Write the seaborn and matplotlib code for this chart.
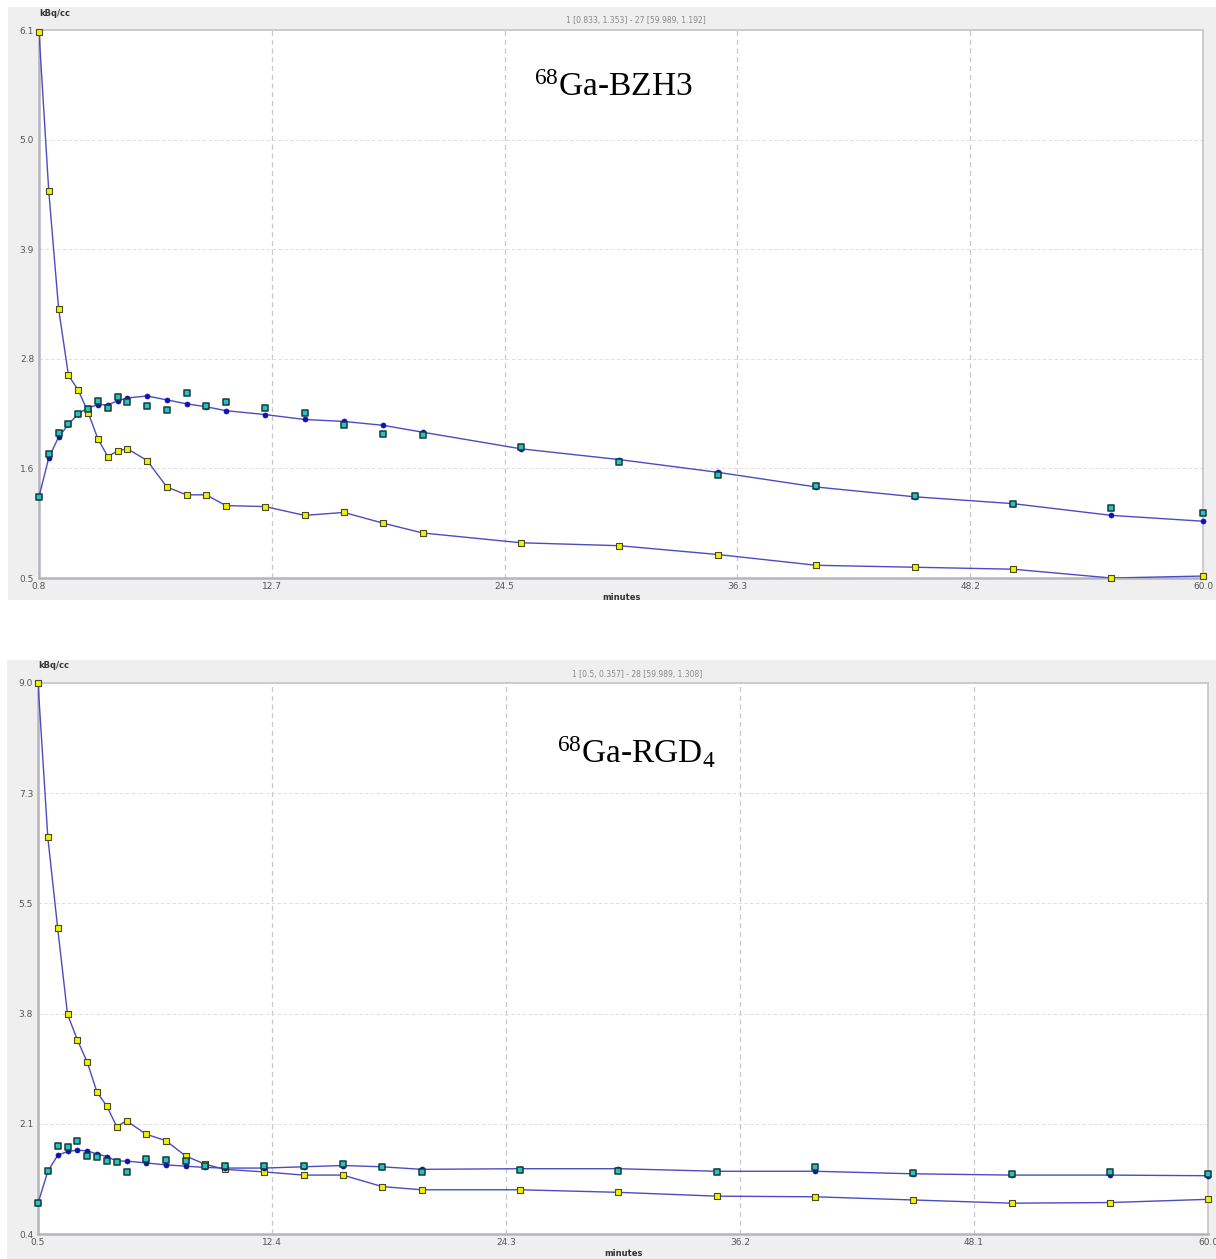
import numpy as np
import pandas as pd
import matplotlib
matplotlib.use("Agg")
import matplotlib.pyplot as plt
from matplotlib.patches import Rectangle
import seaborn as sns

# frame mid-times (minutes)
t_bzh3 = [0.833, 1.33, 1.83, 2.33, 2.83, 3.33, 3.83, 4.33, 4.83, 5.33, 6.33, 7.33, 8.33, 9.33,
          10.33, 12.33, 14.33, 16.33, 18.33, 20.33, 25.33, 30.33, 35.33, 40.33, 45.33, 50.33,
          55.33, 59.989]
t_rgd = [0.5, 1.0, 1.5, 2.0, 2.5, 3.0, 3.5, 4.0, 4.5, 5.0, 6.0, 7.0, 8.0, 9.0, 10.0, 12.0,
         14.0, 16.0, 18.0, 20.0, 25.0, 30.0, 35.0, 40.0, 45.0, 50.0, 55.0, 59.989]

# 68Ga-BZH3 curves (kBq/cc)
bzh3_blood = [6.10, 4.47, 3.27, 2.59, 2.44, 2.21, 1.94, 1.76, 1.82, 1.84, 1.72, 1.45, 1.37, 1.37,
              1.26, 1.25, 1.16, 1.19, 1.08, 0.98, 0.88, 0.85, 0.76, 0.65, 0.63, 0.61, 0.52, 0.54]
bzh3_tumor = [1.35, 1.75, 1.96, 2.09, 2.20, 2.26, 2.29, 2.29, 2.33, 2.36, 2.38, 2.34, 2.30, 2.27,
              2.23, 2.19, 2.14, 2.12, 2.08, 2.01, 1.84, 1.73, 1.60, 1.45, 1.35, 1.28, 1.16, 1.10]
bzh3_fit = [1.35, 1.79, 2.00, 2.09, 2.20, 2.25, 2.33, 2.26, 2.37, 2.32, 2.28, 2.24, 2.41, 2.28,
            2.32, 2.26, 2.21, 2.08, 1.99, 1.98, 1.86, 1.71, 1.57, 1.46, 1.36, 1.28, 1.24, 1.18]

# 68Ga-RGD4 curves (kBq/cc)
rgd_blood = [8.99, 6.57, 5.15, 3.80, 3.40, 3.05, 2.58, 2.36, 2.04, 2.13, 1.92, 1.82, 1.58, 1.45,
             1.37, 1.33, 1.28, 1.28, 1.10, 1.05, 1.05, 1.01, 0.95, 0.94, 0.89, 0.84, 0.85, 0.90]
rgd_tumor = [0.84, 1.34, 1.59, 1.65, 1.67, 1.66, 1.61, 1.57, 1.50, 1.50, 1.47, 1.44, 1.42, 1.40,
             1.39, 1.39, 1.41, 1.43, 1.41, 1.37, 1.38, 1.38, 1.34, 1.34, 1.30, 1.28, 1.28, 1.27]
rgd_fit = [0.84, 1.34, 1.73, 1.72, 1.81, 1.58, 1.57, 1.50, 1.49, 1.33, 1.53, 1.51, 1.50, 1.43,
           1.43, 1.43, 1.42, 1.46, 1.41, 1.33, 1.36, 1.34, 1.33, 1.41, 1.31, 1.30, 1.33, 1.29]

panels = [
    dict(t=t_bzh3, blood=bzh3_blood, tumor=bzh3_tumor, fit=bzh3_fit,
         xlim=(0.833, 59.989), ylim=(0.52, 6.12),
         xlabels=["0.8", "12.7", "24.5", "36.3", "48.2", "60.0"],
         ylabels=["0.5", "1.6", "2.8", "3.9", "5.0", "6.1"],
         header="1 [0.833, 1.353] - 27 [59.989, 1.192]",
         title=r"$^{68}$Ga-BZH3",
         ax_px=(39, 30, 1203, 578), bg_px=(8, 7, 1216, 600), title_px=(613, 88)),
    dict(t=t_rgd, blood=rgd_blood, tumor=rgd_tumor, fit=rgd_fit,
         xlim=(0.5, 59.989), ylim=(0.357, 8.99),
         xlabels=["0.5", "12.4", "24.3", "36.2", "48.1", "60.0"],
         ylabels=["0.4", "2.1", "3.8", "5.5", "7.3", "9.0"],
         header="1 [0.5, 0.357] - 28 [59.989, 1.308]",
         title=r"$^{68}$Ga-RGD$_4$",
         ax_px=(38, 683, 1208, 1234), bg_px=(7, 660, 1216, 1259), title_px=(636, 752)),
]

sns.set_style("white")
plt.rcParams["mathtext.fontset"] = "custom"
plt.rcParams["mathtext.rm"] = "Liberation Serif"
plt.rcParams["mathtext.it"] = "Liberation Serif"

W, H = 1216, 1259
fig = plt.figure(figsize=(W / 100, H / 100), dpi=100)
fig.patch.set_facecolor("white")

line_col = "#4b4bc4"
tick_col = "#555555"

for p in panels:
    # gray panel background
    bx0, by0, bx1, by1 = p["bg_px"]
    fig.patches.append(Rectangle((bx0 / W, 1 - by1 / H), (bx1 - bx0) / W, (by1 - by0) / H,
                                 transform=fig.transFigure, facecolor="#efefef",
                                 edgecolor="none", zorder=-5))
    x0, y0, x1, y1 = p["ax_px"]
    ax = fig.add_axes([x0 / W, 1 - y1 / H, (x1 - x0) / W, (y1 - y0) / H])
    ax.set_facecolor("white")

    df = pd.DataFrame({"t": p["t"], "blood": p["blood"], "tumor": p["tumor"], "fit": p["fit"]})

    sns.lineplot(data=df, x="t", y="blood", ax=ax, color=line_col, lw=1.0, sort=False, zorder=3)
    sns.lineplot(data=df, x="t", y="tumor", ax=ax, color=line_col, lw=1.0, sort=False, zorder=3)
    sns.scatterplot(data=df, x="t", y="blood", ax=ax, marker="s", s=14, color="#f2f200",
                    edgecolor="#4a4a20", linewidth=0.8, zorder=4, clip_on=False)
    sns.scatterplot(data=df, x="t", y="tumor", ax=ax, marker="o", s=13, color="#1010c0",
                    edgecolor="#1010a0", linewidth=0.5, zorder=5, clip_on=False)
    sns.scatterplot(data=df, x="t", y="fit", ax=ax, marker="s", s=20, color="#22c4c4",
                    edgecolor="#1c3838", linewidth=1.1, zorder=6, clip_on=False)

    ax.set_xlim(*p["xlim"])
    ax.set_ylim(*p["ylim"])
    xt = np.linspace(p["xlim"][0], p["xlim"][1], 6)
    yt = np.linspace(p["ylim"][0], p["ylim"][1], 6)
    ax.set_xticks(xt)
    ax.set_xticklabels(p["xlabels"])
    ax.set_yticks(yt)
    ax.set_yticklabels(p["ylabels"])
    ax.tick_params(axis="both", labelsize=6.5, colors=tick_col, length=2, width=0.6, pad=1.5)
    ax.tick_params(axis="x", length=0, pad=3)

    # dashed grid (skip edges)
    for v in xt[1:-1]:
        ax.axvline(v, color="#c8c8c8", lw=0.9, ls=(0, (4, 3)), zorder=1)
    for v in yt[1:-1]:
        ax.axhline(v, color="#d8d8d8", lw=0.6, ls=(0, (4, 3)), zorder=1)

    ax.set_xlabel("")
    ax.set_ylabel("")
    for side in ["top", "right"]:
        ax.spines[side].set_color("#c4c4c4")
        ax.spines[side].set_linewidth(1.2)
    for side in ["left", "bottom"]:
        ax.spines[side].set_color("#b4b4bc")
        ax.spines[side].set_linewidth(1.8)

    # axis captions like the viewer software
    ax.text(0, 1.0 + 17 / (y1 - y0), "kBq/cc", transform=ax.transAxes, fontsize=6,
            fontweight="bold", color="#333333", ha="left", va="center")
    ax.text(0.5, -19 / (y1 - y0), "minutes", transform=ax.transAxes, fontsize=6,
            fontweight="bold", color="#333333", ha="center", va="center")
    fig.text((x0 + x1) / 2 / W + 0.012, 1 - (y0 - 9) / H, p["header"], fontsize=5.5,
             color="#888888", ha="center", va="center")

    tx, ty = p["title_px"]
    fig.text(tx / W, 1 - ty / H, p["title"], fontsize=24, family="Liberation Serif",
             color="black", ha="center", va="center")

fig.savefig("out.png", dpi=100, facecolor="white")
